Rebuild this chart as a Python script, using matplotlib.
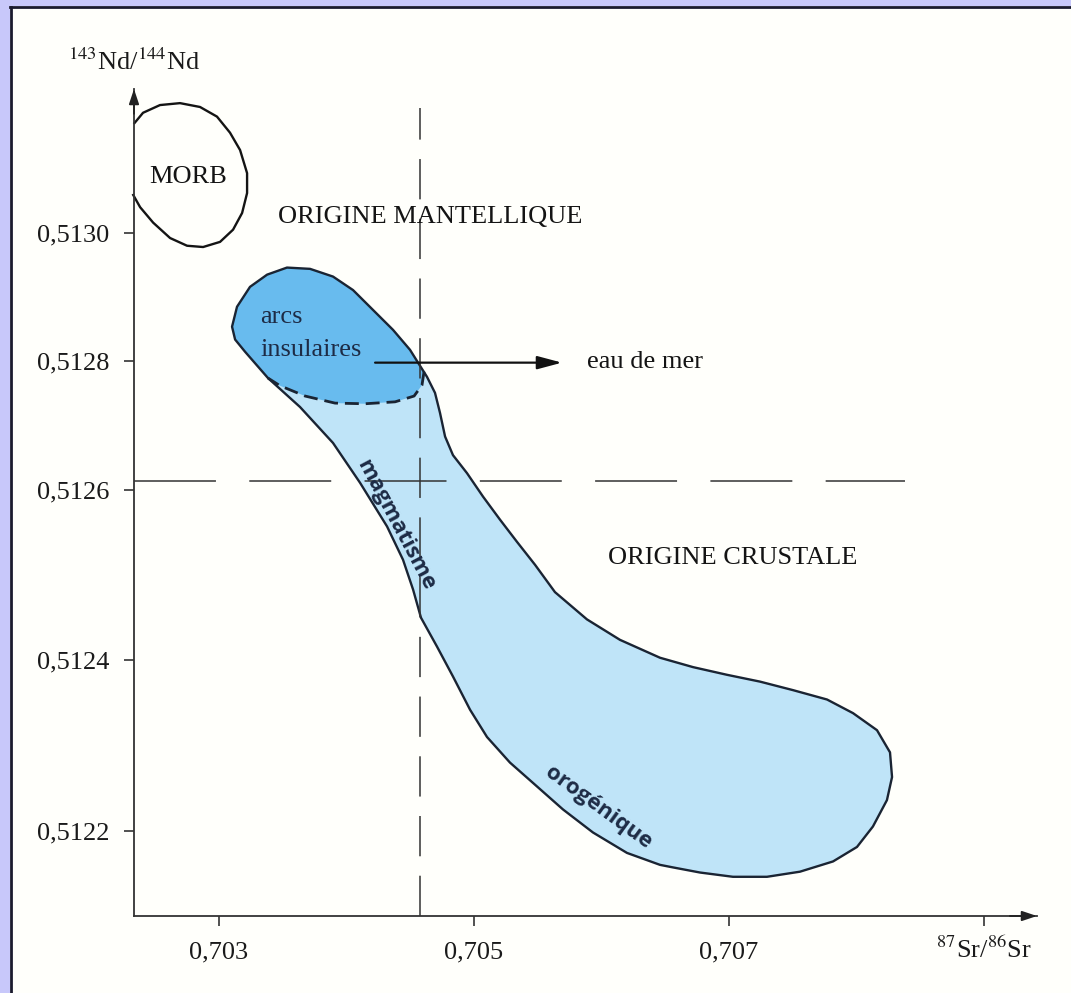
import numpy as np
import matplotlib
matplotlib.use("Agg")
import matplotlib.pyplot as plt
from matplotlib.patches import Polygon, Rectangle

plt.rcParams['font.family'] = ['Liberation Serif', 'DejaVu Serif']
plt.rcParams['mathtext.fontset'] = 'stix'
plt.rcParams['lines.scale_dashes'] = False

# Axes range: 87Sr/86Sr horizontally, 143Nd/144Nd vertically
sr_lim = (0.702336, 0.709419)
nd_lim = (0.512100, 0.513224)
sr_ticks = [0.703, 0.705, 0.707, 0.709]
sr_labels = ['0,703', '0,705', '0,707', '']
nd_ticks = [0.5122, 0.5124, 0.5126, 0.5128, 0.5130]
nd_labels = ['0,5122', '0,5124', '0,5126', '0,5128', '0,5130']

# the Nd axis is drawn with a wider step below 0,5126 than above it
nd_break = 0.5126
step_above = 128.5
step_below = 170.5

# limits between mantle / crustal origin
sr_limit = 0.704580
nd_limit = 0.512614
sr_limit_end = 0.708384
nd_limit_top = 0.513195

# MORB field (open on the Nd axis)
morb_sr = [0.70234, 0.702407, 0.702540, 0.702697, 0.702854, 0.702987, 0.703089,
           0.703168, 0.703223, 0.703223, 0.703184, 0.703113, 0.703011, 0.702878,
           0.702752, 0.702619, 0.702486, 0.702384, 0.70233]
morb_nd = [0.513171, 0.513187, 0.513199, 0.513202, 0.513196, 0.513181, 0.513156,
           0.513129, 0.513093, 0.513062, 0.513031, 0.513005, 0.512986, 0.512978,
           0.512980, 0.512992, 0.513016, 0.513040, 0.513059]

# orogenic magmatism field
oro_sr = [0.703105, 0.703144, 0.703246, 0.703380, 0.703536, 0.703717, 0.703897,
          0.704054, 0.704211, 0.704368, 0.704501, 0.704564, 0.704634, 0.704697,
          0.704736, 0.704776, 0.704838, 0.704948, 0.705074, 0.705207, 0.705340,
          0.705482, 0.705638, 0.705889, 0.706148, 0.706462, 0.706721, 0.706987,
          0.707246, 0.707505, 0.707772, 0.707976, 0.708164, 0.708266, 0.708282,
          0.708242, 0.708132, 0.708007, 0.707819, 0.707560, 0.707301, 0.707034,
          0.706776, 0.706564, 0.706462, 0.706203, 0.705936, 0.705701, 0.705497,
          0.705285, 0.705105, 0.704972, 0.704838, 0.704713, 0.704587, 0.704525,
          0.704446, 0.704321, 0.704109, 0.703897, 0.703638, 0.703387, 0.703207,
          0.703129]
oro_nd = [0.512854, 0.512885, 0.512916, 0.512935, 0.512946, 0.512944, 0.512932,
          0.512911, 0.512880, 0.512849, 0.512818, 0.512798, 0.512776, 0.512751,
          0.512720, 0.512683, 0.512654, 0.512626, 0.512592, 0.512565, 0.512539,
          0.512512, 0.512480, 0.512448, 0.512424, 0.512403, 0.512392, 0.512383,
          0.512375, 0.512365, 0.512354, 0.512338, 0.512318, 0.512292, 0.512263,
          0.512236, 0.512205, 0.512181, 0.512164, 0.512152, 0.512146, 0.512146,
          0.512151, 0.512157, 0.512160, 0.512174, 0.512198, 0.512225, 0.512252,
          0.512280, 0.512310, 0.512342, 0.512381, 0.512416, 0.512450, 0.512483,
          0.512518, 0.512557, 0.512611, 0.512673, 0.512729, 0.512774, 0.512815,
          0.512834]

# lower (dashed) edge of the island-arc field, right to left
arc_edge_sr = [0.704611, 0.704595, 0.704533, 0.704384, 0.704148, 0.703913,
               0.703678, 0.703482, 0.703387]
arc_edge_nd = [0.512784, 0.512763, 0.512746, 0.512737, 0.512734, 0.512735,
               0.512746, 0.512762, 0.512774]

# sea-water arrow
sea_start = (0.704227, 0.512798)
sea_end = (0.705693, 0.512798)


def nd_forward(y):
    y = np.asarray(y, dtype=float)
    return np.where(y >= nd_break, (y - nd_break) / 0.0002 * step_above,
                    (y - nd_break) / 0.0002 * step_below)


def nd_inverse(v):
    v = np.asarray(v, dtype=float)
    return np.where(v >= 0, nd_break + v * 0.0002 / step_above,
                    nd_break + v * 0.0002 / step_below)


W, H = 1071, 993
fig = plt.figure(figsize=(W / 100, H / 100), dpi=100)
fig.patch.set_facecolor('#fffffb')

# lavender frame on top and left
lav = '#c8c8fa'
fig.add_artist(Rectangle((0, 1 - 6 / H), 1, 6 / H, transform=fig.transFigure,
                         facecolor=lav, edgecolor='none'))
fig.add_artist(Rectangle((0, 0), 10 / W, 1, transform=fig.transFigure,
                         facecolor=lav, edgecolor='none'))
fig.add_artist(plt.Line2D([10 / W, 1], [1 - 7 / H, 1 - 7 / H], transform=fig.transFigure,
                          color='#1a1a2e', lw=2))
fig.add_artist(plt.Line2D([11 / W, 11 / W], [0, 1 - 7 / H], transform=fig.transFigure,
                          color='#1a1a2e', lw=2))

ax = fig.add_axes([134 / W, (H - 916) / H, (1037 - 134) / W, (916 - 89) / H])
ax.set_facecolor('none')
ax.set_yscale('function', functions=(nd_forward, nd_inverse))
ax.set_xlim(*sr_lim)
ax.set_ylim(*nd_lim)

ink = '#141414'
navy = '#1d2b45'

# fields
ax.add_patch(Polygon(np.column_stack([oro_sr, oro_nd]), closed=True,
                     facecolor='#bfe4f8', edgecolor='none', zorder=1))
arc_sr = oro_sr[-3:] + oro_sr[:13] + arc_edge_sr
arc_nd = oro_nd[-3:] + oro_nd[:13] + arc_edge_nd
ax.add_patch(Polygon(np.column_stack([arc_sr, arc_nd]), closed=True,
                     facecolor='#68bbee', edgecolor='none', zorder=1.5))
ax.add_patch(Polygon(np.column_stack([oro_sr, oro_nd]), closed=True,
                     facecolor='none', edgecolor='#1a2433', lw=1.7,
                     joinstyle='round', zorder=2))
ax.plot(arc_edge_sr, arc_edge_nd, color='#1a2433', lw=2.0,
        dashes=(10, 5), zorder=2)
ax.plot(morb_sr, morb_nd, color=ink, lw=1.7, zorder=2, clip_on=False,
        solid_joinstyle='round')

# dashed limits
ax.plot([sr_lim[0], sr_limit_end], [nd_limit, nd_limit], color='#333333', lw=1.1,
        dashes=(59, 24), zorder=3)
ax.plot([sr_limit, sr_limit], [nd_lim[0], nd_limit_top], color='#333333', lw=1.1,
        dashes=(29, 14), zorder=3)

# sea-water arrow
ax.annotate('', xy=sea_end, xytext=sea_start,
            arrowprops=dict(arrowstyle='-|>,head_length=1.5,head_width=0.4',
                            color='#111111', lw=1.6, shrinkA=0, shrinkB=0),
            zorder=4)

# axes with arrows
for side in ['top', 'right']:
    ax.spines[side].set_visible(False)
for side in ['left', 'bottom']:
    ax.spines[side].set_color('#333333')
    ax.spines[side].set_linewidth(1.3)
ax.annotate('', xy=(1, 0), xytext=(0.97, 0), xycoords='axes fraction',
            arrowprops=dict(arrowstyle='-|>,head_length=0.9,head_width=0.3',
                            color='#222222', lw=1.3, shrinkA=0, shrinkB=0))
ax.annotate('', xy=(0, 1), xytext=(0, 0.97), xycoords='axes fraction',
            arrowprops=dict(arrowstyle='-|>,head_length=0.9,head_width=0.3',
                            color='#222222', lw=1.3, shrinkA=0, shrinkB=0))

ax.set_xticks(sr_ticks)
ax.set_xticklabels(sr_labels)
ax.set_yticks(nd_ticks)
ax.set_yticklabels(nd_labels)
ax.minorticks_off()
ax.tick_params(direction='out', length=7, width=1.2, color='#333333',
               labelsize=19, labelcolor='#1a1a1a')
ax.tick_params(axis='x', pad=11)
ax.tick_params(axis='y', pad=11)

# axis titles
ax.text(0.0, 1.017, r'$^{143}$Nd/$^{144}$Nd', transform=ax.transAxes,
        ha='center', va='bottom', fontsize=19, color='#1a1a1a')
ax.text(0.709, -0.041, r'$^{87}$Sr/$^{86}$Sr', transform=ax.get_xaxis_transform(),
        ha='center', va='center', fontsize=19, color='#1a1a1a')

# field labels
ax.text(0.702760, 0.513087, 'MORB', ha='center', va='center', fontsize=19,
        color=ink)
ax.text(0.703466, 0.513025, 'ORIGINE MANTELLIQUE', ha='left', va='center',
        fontsize=19, color=ink)
ax.text(0.706054, 0.512520, 'ORIGINE CRUSTALE', ha='left', va='center',
        fontsize=19, color=ink)
ax.text(0.705889, 0.512799, 'eau de mer', ha='left', va='center',
        fontsize=19, color=ink)
ax.text(0.703325, 0.512869, 'arcs', ha='left', va='center', fontsize=19,
        color=navy, zorder=5)
ax.text(0.703325, 0.512818, 'insulaires', ha='left', va='center', fontsize=19,
        color=navy, zorder=5)
ax.text(0.704384, 0.512559, 'magmatisme', ha='center', va='center', fontsize=16,
        rotation=-62, color=navy, fontweight='bold', zorder=5,
        family=['Open Sans', 'DejaVu Sans'])
ax.text(0.705976, 0.512227, 'orogénique', ha='center', va='center', fontsize=16,
        rotation=-36, color=navy, fontweight='bold', zorder=5,
        family=['Open Sans', 'DejaVu Sans'])

fig.savefig('out.png', dpi=100)
